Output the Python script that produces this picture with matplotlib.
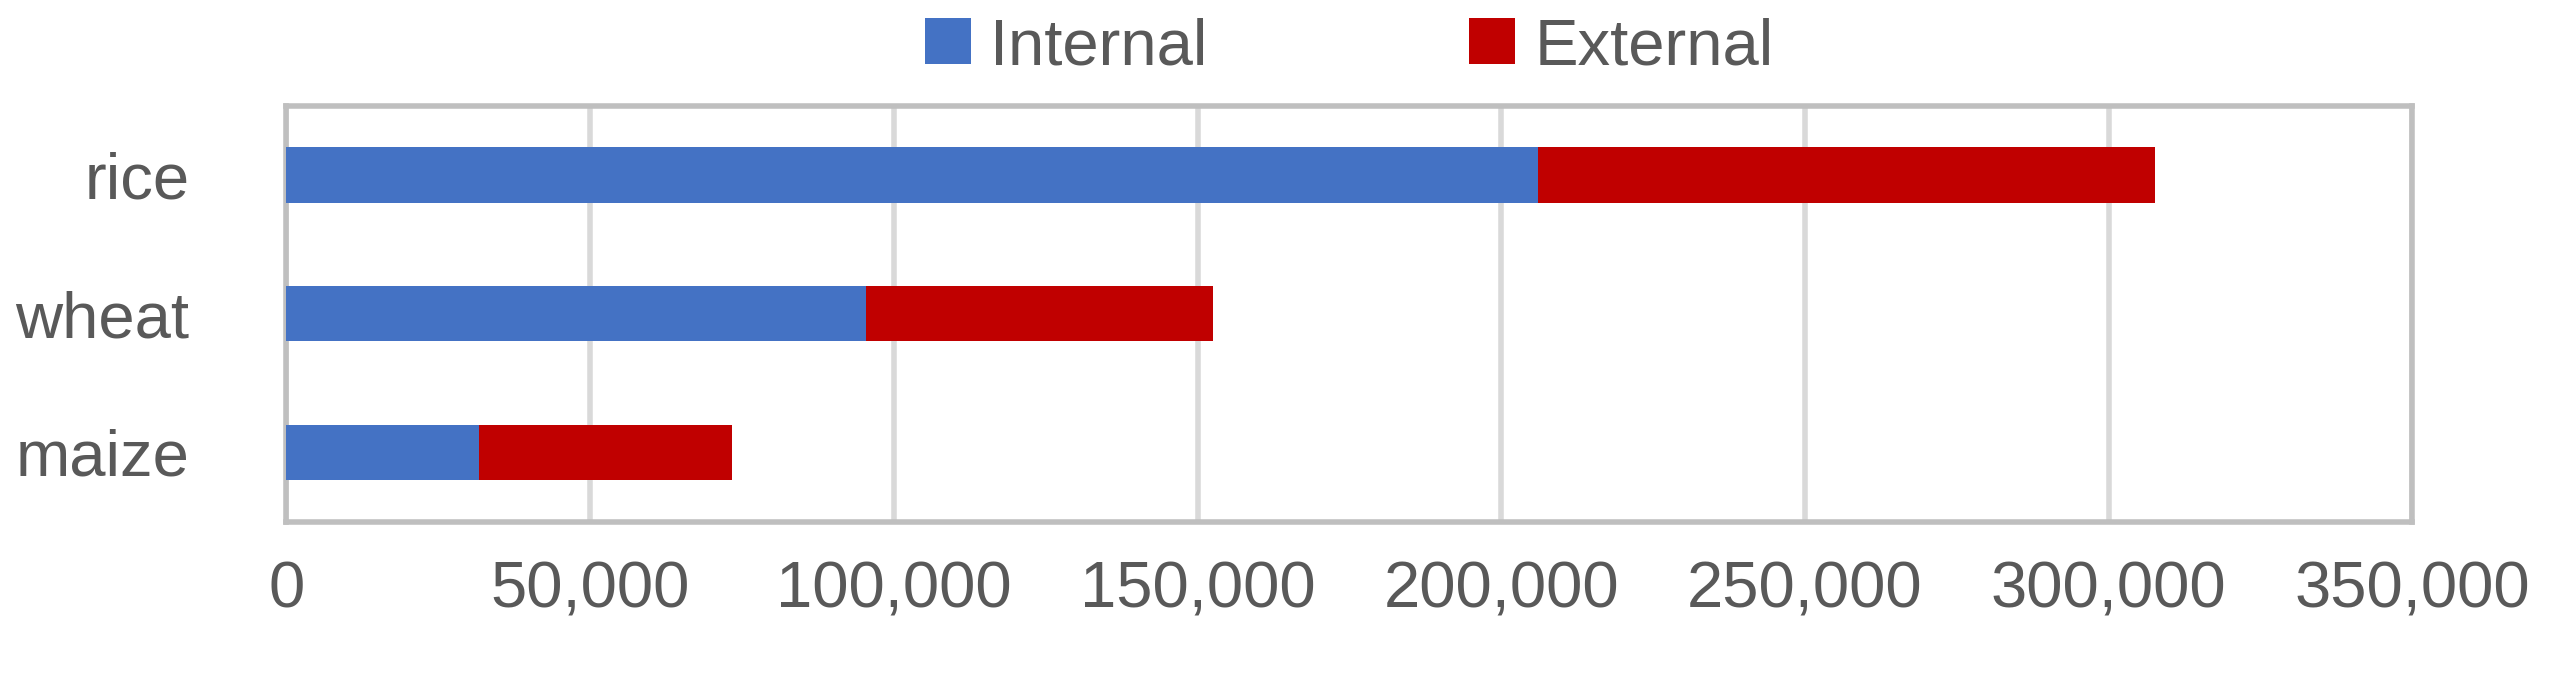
import matplotlib.pyplot as plt
from matplotlib.ticker import FuncFormatter

crops = ['maize', 'wheat', 'rice']
internal = [31700, 95400, 206000]
external = [41600, 57200, 101600]

plt.rcParams['font.family'] = ['Liberation Sans', 'DejaVu Sans']

fig = plt.figure(figsize=(25.58, 6.73), dpi=100)
ax = fig.add_axes([0.112, 0.225, 0.831, 0.618])

ax.barh(crops, internal, height=0.4, color='#4472C4', label='Internal', zorder=3)
ax.barh(crops, external, left=internal, height=0.4, color='#C00000', label='External', zorder=3)

ax.set_xlim(0, 350000)
ax.set_ylim(-0.5, 2.5)
ax.set_xticks(range(0, 350001, 50000))
ax.xaxis.set_major_formatter(FuncFormatter(lambda v, p: f'{int(v):,}'))
ax.grid(axis='x', color='#D9D9D9', linewidth=4, zorder=0)
for s in ax.spines.values():
    s.set_color('#BFBFBF')
    s.set_linewidth(4)
ax.tick_params(axis='x', length=0, labelsize=47, colors='#595959', pad=28)
ax.tick_params(axis='y', length=0, labelsize=47, colors='#595959', pad=70)

ax.legend(loc='lower center', bbox_to_anchor=(0.5, 0.99), ncol=2, frameon=False,
          fontsize=47, labelcolor='#595959', handlelength=0.7, handleheight=0.7,
          columnspacing=4, handletextpad=0.3, borderaxespad=0.1)

fig.savefig('out.png', dpi=100)
